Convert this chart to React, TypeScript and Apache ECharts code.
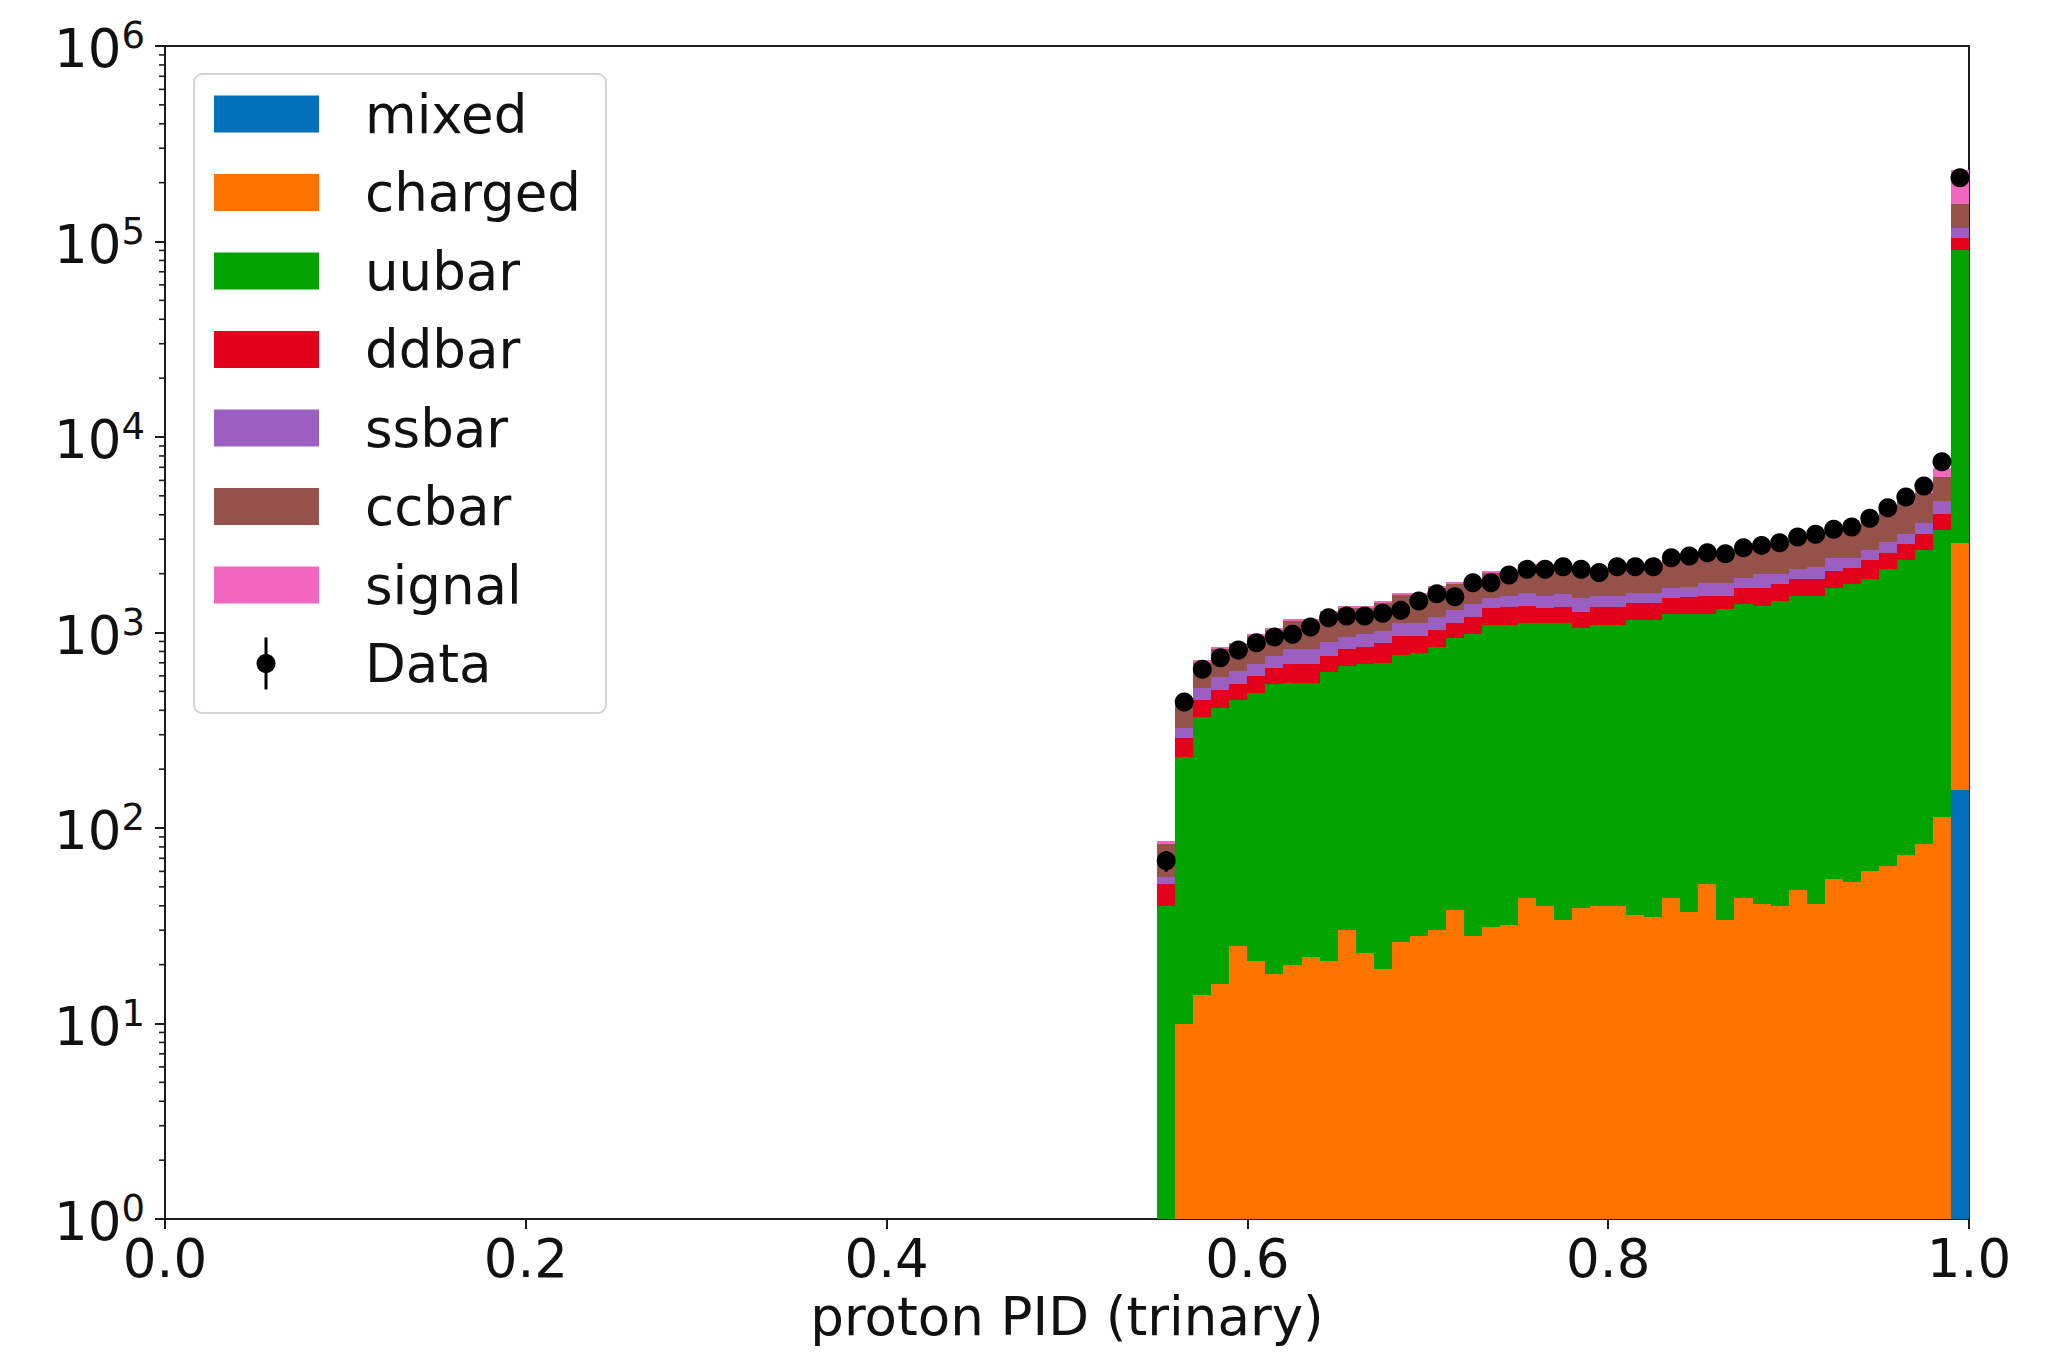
import React, { useEffect, useRef } from "react";
import * as echarts from "echarts";

// Histogram binning of the proton PID variable
const BIN_START = 0.55;
const BIN_WIDTH = 0.01;

// Stacked MC components, bottom to top
const COMPONENT_NAMES = ["mixed", "charged", "uubar", "ddbar", "ssbar", "ccbar", "signal"];
const COMPONENT_COLORS = ["#0071ba", "#ff7300", "#00a300", "#e3001b", "#9a5fc0", "#95524a", "#f067c0"];

const mixed = [0, 0, 0, 0, 0, 0, 0, 0, 0, 0, 0, 0, 0, 0, 0, 0, 0, 0, 0, 0, 0, 0, 0, 0, 0, 0, 0, 0, 0, 0, 0, 0, 0, 0, 0, 0, 0, 0, 0, 0, 0, 0, 0, 0, 156];
const charged = [0, 10, 14, 16, 25, 21, 18, 20, 22, 21, 30, 23, 19, 26, 28, 30, 38, 28, 31, 32, 44, 40, 34, 39, 40, 40, 36, 35, 44, 37, 52, 34, 44, 41, 40, 48, 41, 55, 53, 60, 64, 73, 83, 114, 2700];
const uubar = [40, 221, 356, 394, 425, 471, 529, 533, 531, 610, 644, 670, 682, 741, 760, 817, 896, 958, 1061, 1060, 1079, 1083, 1089, 1019, 1052, 1052, 1123, 1124, 1195, 1202, 1187, 1280, 1361, 1327, 1410, 1490, 1497, 1640, 1711, 1810, 2057, 2266, 2560, 3221, 87240];
const ddbar = [12, 57, 80, 96, 93, 108, 109, 140, 140, 127, 146, 154, 186, 193, 172, 179, 189, 214, 238, 258, 245, 217, 227, 221, 264, 264, 262, 262, 257, 281, 299, 224, 290, 327, 314, 332, 332, 369, 366, 469, 439, 486, 562, 685, 14600];
const ssbar = [4, 38, 72, 86, 93, 93, 102, 127, 127, 140, 129, 139, 131, 163, 163, 174, 175, 194, 178, 188, 232, 198, 230, 229, 182, 182, 165, 165, 186, 195, 260, 260, 212, 289, 220, 236, 301, 331, 265, 293, 355, 380, 445, 690, 12300];
const ccbar = [27, 119, 179, 228, 234, 267, 272, 320, 320, 362, 391, 354, 402, 427, 427, 490, 482, 416, 512, 482, 590, 652, 610, 652, 572, 622, 604, 604, 723, 740, 712, 752, 793, 766, 866, 944, 969, 945, 1035, 1128, 1285, 1445, 1550, 1530, 38000];
const signal = [3, 10, 19, 27, 17, 26, 28, 27, 27, 28, 28, 28, 30, 36, 36, 40, 40, 39, 44, 44, 42, 42, 40, 40, 40, 40, 40, 40, 45, 45, 50, 50, 50, 50, 50, 55, 60, 65, 70, 80, 100, 150, 200, 730, 76000];

// Observed counts per bin
const dataCounts = [68, 441, 648, 743, 813, 887, 949, 979, 1067, 1191, 1214, 1214, 1253, 1298, 1450, 1580, 1525, 1798, 1798, 1969, 2104, 2106, 2171, 2106, 2025, 2171, 2171, 2171, 2414, 2461, 2560, 2530, 2715, 2790, 2880, 3078, 3178, 3370, 3465, 3840, 4350, 4930, 5610, 7480, 212000];

// Axis ranges and ticks
const X_MIN = 0;
const X_MAX = 1;
const X_INTERVAL = 0.2;
const Y_MIN = 1;
const Y_MAX = 1e6;
const Y_MINOR_MANTISSAS = [2, 3, 4, 5, 6, 7, 8, 9];
const Y_DECADES = [0, 1, 2, 3, 4, 5];

const X_TITLE = "proton PID (trinary)";
const DATA_LABEL = "Data";

const FONT = "DejaVu Sans";
const FONT_SIZE = 53;
const SUP_SIZE = 37;
const INK = "#111111";
const SPINE = "#1c1c1c";

function buildOption() {
  const components = [mixed, charged, uubar, ddbar, ssbar, ccbar, signal];
  const cum = dataCounts.map(() => 0);

  const stackSeries = components.map((vals, k) => {
    const rows: number[][] = [];
    vals.forEach((v, i) => {
      const lo = cum[i];
      const hi = lo + v;
      cum[i] = hi;
      if (v > 0) {
        rows.push([BIN_START + i * BIN_WIDTH, BIN_START + (i + 1) * BIN_WIDTH, Math.max(lo, Y_MIN), hi]);
      }
    });
    const color = COMPONENT_COLORS[k];
    return {
      type: "custom",
      name: COMPONENT_NAMES[k],
      data: rows,
      encode: { x: [0, 1], y: [2, 3] },
      z: 2,
      renderItem: (_params: any, api: any) => {
        const pTop = api.coord([api.value(0), api.value(3)]);
        const pBot = api.coord([api.value(1), api.value(2)]);
        // snap to whole pixels so neighbouring bins meet without seams
        const x0 = Math.round(pTop[0]);
        const x1 = Math.round(pBot[0]);
        const y0 = Math.round(pTop[1]);
        const y1 = Math.round(pBot[1]);
        return {
          type: "rect",
          shape: { x: x0, y: y0, width: x1 - x0, height: y1 - y0 },
          style: { fill: color },
        };
      },
    };
  });

  const dataPoints = dataCounts.map((v, i) => [BIN_START + (i + 0.5) * BIN_WIDTH, v]);

  const errorBars = {
    type: "custom",
    name: "Data errors",
    data: dataPoints,
    encode: { x: 0, y: 1 },
    z: 4,
    renderItem: (_params: any, api: any) => {
      const xc = api.value(0);
      const v = api.value(1);
      const s = Math.sqrt(v);
      const p0 = api.coord([xc, Math.max(v - s, Y_MIN)]);
      const p1 = api.coord([xc, v + s]);
      return {
        type: "line",
        shape: { x1: p0[0], y1: p0[1], x2: p1[0], y2: p1[1] },
        style: { stroke: "#000", lineWidth: 3 },
      };
    },
  };

  const dataScatter = {
    type: "scatter",
    name: DATA_LABEL,
    data: dataPoints,
    symbol: "circle",
    symbolSize: 19,
    itemStyle: { color: "#000", opacity: 1 },
    z: 5,
  };

  // Log-axis minor ticks at 2..9 x 10^k
  const minorValues: number[][] = [];
  Y_DECADES.forEach((d) => {
    Y_MINOR_MANTISSAS.forEach((m) => minorValues.push([X_MIN, m * Math.pow(10, d)]));
  });
  const minorTicks = {
    type: "custom",
    name: "minor ticks",
    data: minorValues,
    encode: { x: 0, y: 1 },
    clip: false,
    silent: true,
    z: 6,
    renderItem: (_params: any, api: any) => {
      const p = api.coord([api.value(0), api.value(1)]);
      return {
        type: "line",
        shape: { x1: p[0] - 6, y1: p[1], x2: p[0], y2: p[1] },
        style: { stroke: SPINE, lineWidth: 1.6 },
      };
    },
  };

  // Legend box drawn with graphic elements
  const legendLeft = 194;
  const legendTop = 74;
  const rowTop = 114;
  const rowStep = 78.5;
  const legendFont = `${FONT_SIZE}px "${FONT}"`;
  const legendChildren: any[] = [
    {
      type: "rect",
      shape: { x: legendLeft, y: legendTop, width: 412, height: 639, r: 8 },
      style: { fill: "rgba(255,255,255,0.8)", stroke: "#d4d4d4", lineWidth: 2 },
    },
  ];
  COMPONENT_NAMES.forEach((name, k) => {
    const cy = rowTop + rowStep * k;
    legendChildren.push({
      type: "rect",
      shape: { x: 214, y: cy - 18.5, width: 105, height: 37 },
      style: { fill: COMPONENT_COLORS[k] },
    });
    legendChildren.push({
      type: "text",
      x: 365,
      y: cy,
      style: { text: name, font: legendFont, fill: INK, verticalAlign: "middle", align: "left" },
    });
  });
  const dataRowY = rowTop + rowStep * COMPONENT_NAMES.length;
  legendChildren.push({
    type: "line",
    shape: { x1: 266, y1: dataRowY - 26, x2: 266, y2: dataRowY + 26 },
    style: { stroke: "#000", lineWidth: 3 },
  });
  legendChildren.push({
    type: "circle",
    shape: { cx: 266, cy: dataRowY, r: 9.5 },
    style: { fill: "#000" },
  });
  legendChildren.push({
    type: "text",
    x: 365,
    y: dataRowY,
    style: { text: DATA_LABEL, font: legendFont, fill: INK, verticalAlign: "middle", align: "left" },
  });

  return {
    animation: false,
    backgroundColor: "#ffffff",
    textStyle: { fontFamily: FONT },
    grid: {
      left: 165,
      right: 100,
      top: 46,
      bottom: 139,
      show: true,
      borderColor: SPINE,
      borderWidth: 2,
      backgroundColor: "transparent",
      containLabel: false,
    },
    xAxis: {
      type: "value",
      min: X_MIN,
      max: X_MAX,
      interval: X_INTERVAL,
      name: X_TITLE,
      nameLocation: "middle",
      nameGap: 70,
      nameTextStyle: { fontSize: FONT_SIZE, color: INK, fontFamily: FONT },
      axisLine: { show: true, lineStyle: { color: SPINE, width: 2 } },
      axisTick: { show: true, inside: false, length: 10, lineStyle: { color: SPINE, width: 2 } },
      axisLabel: {
        fontSize: FONT_SIZE,
        color: INK,
        fontFamily: FONT,
        margin: 13,
        formatter: (v: number) => v.toFixed(1),
      },
      splitLine: { show: false },
    },
    yAxis: {
      type: "log",
      logBase: 10,
      min: Y_MIN,
      max: Y_MAX,
      axisLine: { show: true, lineStyle: { color: SPINE, width: 2 } },
      axisTick: { show: true, inside: false, length: 10, lineStyle: { color: SPINE, width: 2 } },
      axisLabel: {
        margin: 20,
        color: INK,
        fontFamily: FONT,
        formatter: (v: number) => `{b|10}{s|${Math.round(Math.log10(v))}}`,
        rich: {
          b: { fontSize: FONT_SIZE, fontFamily: FONT, color: INK, lineHeight: 58, verticalAlign: "bottom" },
          s: { fontSize: SUP_SIZE, fontFamily: FONT, color: INK, lineHeight: 58, verticalAlign: "top" },
        },
      },
      splitLine: { show: false },
      minorTick: { show: false },
    },
    graphic: [{ type: "group", children: legendChildren, z: 100 }],
    series: [...stackSeries, errorBars, dataScatter, minorTicks],
  };
}

export default function App() {
  const ref = useRef<HTMLDivElement>(null);

  useEffect(() => {
    if (!ref.current) return;
    const chart = echarts.init(ref.current, undefined, { renderer: "svg" });
    chart.setOption(buildOption() as any);
    return () => {
      chart.dispose();
    };
  }, []);

  return (
    <div
      ref={ref}
      style={{ position: "fixed", left: 0, top: 0, width: 2069, height: 1358, background: "#ffffff" }}
    />
  );
}
